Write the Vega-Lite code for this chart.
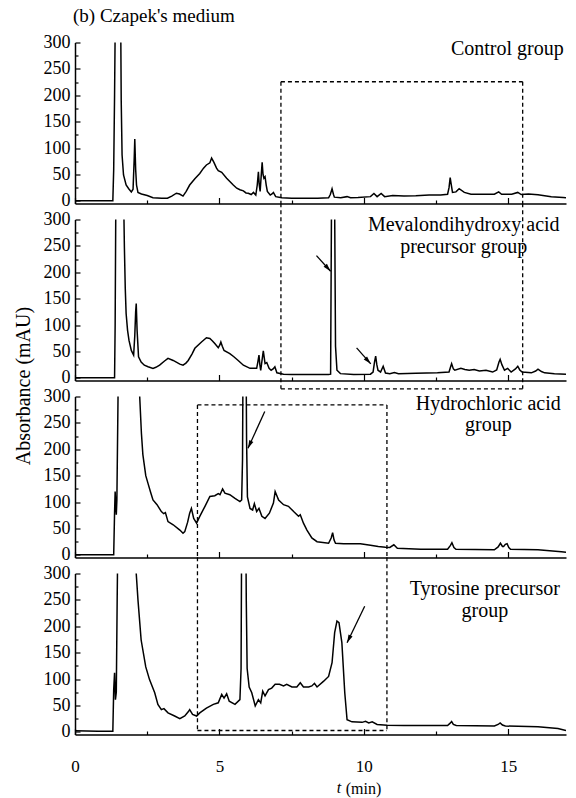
{
  "$schema": "https://vega.github.io/schema/vega-lite/v6.json",
  "background": "white",
  "padding": {"left": 13, "top": 6.5, "right": 4, "bottom": 2},
  "config": {
    "view": {"stroke": null},
    "font": "Liberation Serif",
    "axis": {
      "domainColor": "black", "domainWidth": 1.5,
      "tickColor": "black", "tickWidth": 1.2,
      "grid": false, "labelOverlap": false, "labelFlush": false,
      "labelFont": "Liberation Serif", "labelColor": "black", "labelFontSize": 18,
      "titleFont": "Liberation Serif", "titleFontWeight": "normal", "titleColor": "black"
    },
    "title": {"font": "Liberation Serif", "fontWeight": "normal", "color": "black"},
    "text": {"font": "Liberation Serif", "color": "black"}
  },
  "datasets": {
    "control": [
      {"t":0,"a":0},{"t":1.31,"a":0},{"t":1.34,"a":60},{"t":1.37,"a":200},{"t":1.40,"a":380},{"t":1.50,"a":700},{"t":1.58,"a":360},{"t":1.60,"a":190},{"t":1.63,"a":87},{"t":1.68,"a":49},{"t":1.77,"a":30},{"t":1.86,"a":23},{"t":1.95,"a":17},{"t":2.01,"a":22},{"t":2.05,"a":80},{"t":2.07,"a":117},{"t":2.10,"a":60},{"t":2.13,"a":30},{"t":2.18,"a":16},{"t":2.3,"a":13},{"t":2.5,"a":10},{"t":2.7,"a":6},{"t":3.0,"a":5},{"t":3.2,"a":5},{"t":3.35,"a":9},{"t":3.51,"a":14.5},{"t":3.62,"a":13},{"t":3.74,"a":9},{"t":3.85,"a":18},{"t":3.97,"a":30},{"t":4.15,"a":42},{"t":4.32,"a":52},{"t":4.45,"a":62},{"t":4.55,"a":68},{"t":4.67,"a":72},{"t":4.73,"a":81},{"t":4.81,"a":73},{"t":4.9,"a":62},{"t":4.96,"a":57},{"t":5.08,"a":54},{"t":5.25,"a":43},{"t":5.48,"a":30},{"t":5.6,"a":24},{"t":5.71,"a":21},{"t":5.83,"a":19},{"t":5.92,"a":15},{"t":6.0,"a":14.5},{"t":6.1,"a":12},{"t":6.18,"a":16},{"t":6.26,"a":11},{"t":6.31,"a":30},{"t":6.35,"a":55},{"t":6.38,"a":30},{"t":6.41,"a":18},{"t":6.45,"a":50},{"t":6.48,"a":73},{"t":6.51,"a":50},{"t":6.54,"a":43},{"t":6.58,"a":46},{"t":6.62,"a":30},{"t":6.66,"a":18},{"t":6.76,"a":11},{"t":6.82,"a":13},{"t":6.87,"a":16},{"t":6.92,"a":11},{"t":6.95,"a":8},{"t":7.16,"a":5.7},{"t":7.5,"a":5},{"t":7.91,"a":5},{"t":8.4,"a":5},{"t":8.78,"a":5.7},{"t":8.84,"a":12},{"t":8.90,"a":23},{"t":8.95,"a":12},{"t":8.98,"a":7},{"t":9.2,"a":6},{"t":9.42,"a":8},{"t":9.54,"a":6},{"t":9.8,"a":6.5},{"t":10.23,"a":8},{"t":10.35,"a":14},{"t":10.46,"a":8},{"t":10.6,"a":14},{"t":10.72,"a":8},{"t":11.0,"a":10},{"t":11.39,"a":9},{"t":11.8,"a":9.5},{"t":12.26,"a":11},{"t":12.66,"a":11},{"t":12.9,"a":12.6},{"t":12.95,"a":25},{"t":12.99,"a":44},{"t":13.03,"a":30},{"t":13.07,"a":16},{"t":13.19,"a":17},{"t":13.3,"a":23},{"t":13.48,"a":16},{"t":13.71,"a":12.6},{"t":14.17,"a":12.6},{"t":14.52,"a":12.6},{"t":14.67,"a":17},{"t":14.77,"a":12.6},{"t":15.12,"a":12.6},{"t":15.33,"a":16},{"t":15.45,"a":12},{"t":15.7,"a":13},{"t":16.03,"a":11.5},{"t":16.49,"a":7.6},{"t":16.9,"a":6.3},{"t":17.0,"a":6}
    ],
    "mevalon": [
      {"t":0,"a":0},{"t":1.37,"a":0},{"t":1.39,"a":100},{"t":1.41,"a":300},{"t":1.44,"a":500},{"t":1.6,"a":700},{"t":1.69,"a":320},{"t":1.71,"a":248},{"t":1.74,"a":170},{"t":1.77,"a":122},{"t":1.82,"a":90},{"t":1.87,"a":71},{"t":1.95,"a":52},{"t":2.03,"a":43},{"t":2.07,"a":80},{"t":2.10,"a":125},{"t":2.12,"a":141},{"t":2.15,"a":90},{"t":2.20,"a":40},{"t":2.29,"a":30},{"t":2.4,"a":24},{"t":2.53,"a":21},{"t":2.7,"a":18},{"t":2.8,"a":20},{"t":2.93,"a":24},{"t":3.1,"a":32},{"t":3.22,"a":37},{"t":3.4,"a":33},{"t":3.63,"a":26},{"t":3.74,"a":24},{"t":3.84,"a":28},{"t":3.92,"a":33},{"t":4.05,"a":45},{"t":4.15,"a":56},{"t":4.38,"a":68},{"t":4.55,"a":76},{"t":4.67,"a":74.5},{"t":4.76,"a":70},{"t":4.84,"a":65},{"t":4.96,"a":57},{"t":5.01,"a":62},{"t":5.05,"a":68},{"t":5.1,"a":60},{"t":5.16,"a":52},{"t":5.36,"a":46},{"t":5.5,"a":40},{"t":5.65,"a":33},{"t":5.83,"a":24},{"t":6.06,"a":18},{"t":6.29,"a":18},{"t":6.33,"a":30},{"t":6.37,"a":43},{"t":6.40,"a":25},{"t":6.43,"a":14},{"t":6.48,"a":35},{"t":6.52,"a":51},{"t":6.56,"a":35},{"t":6.58,"a":27},{"t":6.64,"a":29},{"t":6.72,"a":18},{"t":6.79,"a":14.5},{"t":6.86,"a":17},{"t":6.92,"a":21},{"t":6.99,"a":9.5},{"t":7.22,"a":7},{"t":7.5,"a":6.5},{"t":7.91,"a":6.3},{"t":8.3,"a":6.5},{"t":8.78,"a":6.3},{"t":8.85,"a":7},{"t":8.88,"a":320},{"t":8.93,"a":800},{"t":8.99,"a":320},{"t":9.02,"a":60},{"t":9.07,"a":14.5},{"t":9.19,"a":8},{"t":9.65,"a":6.3},{"t":10.23,"a":7},{"t":10.32,"a":11},{"t":10.37,"a":30},{"t":10.41,"a":41},{"t":10.45,"a":25},{"t":10.49,"a":14.5},{"t":10.58,"a":11},{"t":10.67,"a":22},{"t":10.75,"a":9},{"t":10.9,"a":8},{"t":11.06,"a":10},{"t":11.2,"a":8},{"t":11.8,"a":8.5},{"t":12.55,"a":9.5},{"t":12.95,"a":11},{"t":13.0,"a":20},{"t":13.04,"a":27},{"t":13.1,"a":17},{"t":13.15,"a":14.5},{"t":13.36,"a":18},{"t":13.5,"a":16},{"t":13.65,"a":14.5},{"t":13.82,"a":16},{"t":14.0,"a":13},{"t":14.23,"a":14.5},{"t":14.46,"a":11},{"t":14.6,"a":15},{"t":14.68,"a":30},{"t":14.72,"a":35},{"t":14.78,"a":25},{"t":14.87,"a":14.5},{"t":14.98,"a":18},{"t":15.1,"a":11},{"t":15.25,"a":17},{"t":15.33,"a":22},{"t":15.4,"a":15},{"t":15.48,"a":11},{"t":15.8,"a":9.5},{"t":15.95,"a":13},{"t":16.03,"a":16.4},{"t":16.15,"a":12},{"t":16.26,"a":9.5},{"t":16.6,"a":8},{"t":17.0,"a":7}
    ],
    "hcl": [
      {"t":0,"a":0},{"t":1.34,"a":0},{"t":1.37,"a":80},{"t":1.39,"a":120},{"t":1.41,"a":95},{"t":1.43,"a":76},{"t":1.45,"a":104},{"t":1.48,"a":250},{"t":1.51,"a":400},{"t":1.8,"a":1500},{"t":2.2,"a":360},{"t":2.24,"a":300},{"t":2.3,"a":230},{"t":2.35,"a":190},{"t":2.45,"a":150},{"t":2.53,"a":135},{"t":2.62,"a":118},{"t":2.7,"a":104},{"t":2.84,"a":95},{"t":2.99,"a":82},{"t":3.07,"a":78},{"t":3.13,"a":80},{"t":3.22,"a":63},{"t":3.4,"a":57},{"t":3.63,"a":47},{"t":3.74,"a":41},{"t":3.8,"a":44},{"t":3.9,"a":62},{"t":3.97,"a":79},{"t":4.03,"a":88},{"t":4.11,"a":69},{"t":4.21,"a":60},{"t":4.32,"a":73},{"t":4.5,"a":92},{"t":4.67,"a":110.5},{"t":4.84,"a":112},{"t":4.96,"a":116},{"t":5.02,"a":114},{"t":5.11,"a":125},{"t":5.19,"a":117},{"t":5.36,"a":114},{"t":5.54,"a":107},{"t":5.71,"a":101},{"t":5.77,"a":104},{"t":5.80,"a":180},{"t":5.83,"a":500},{"t":5.91,"a":500},{"t":5.94,"a":220},{"t":5.97,"a":110},{"t":6.06,"a":88},{"t":6.15,"a":85},{"t":6.21,"a":97},{"t":6.29,"a":82},{"t":6.37,"a":88},{"t":6.47,"a":73},{"t":6.58,"a":69},{"t":6.73,"a":79},{"t":6.87,"a":98},{"t":6.93,"a":120},{"t":7.05,"a":104},{"t":7.22,"a":95},{"t":7.39,"a":92},{"t":7.57,"a":82},{"t":7.74,"a":73},{"t":7.8,"a":76},{"t":7.91,"a":60},{"t":8.03,"a":47},{"t":8.2,"a":32},{"t":8.38,"a":25},{"t":8.78,"a":22},{"t":8.87,"a":32},{"t":8.92,"a":42},{"t":8.97,"a":28},{"t":9.02,"a":22},{"t":9.3,"a":21},{"t":9.88,"a":21},{"t":10.23,"a":18},{"t":10.5,"a":16},{"t":10.75,"a":14.5},{"t":10.9,"a":14},{"t":11.04,"a":19},{"t":11.16,"a":12.6},{"t":11.97,"a":10.7},{"t":12.9,"a":10.7},{"t":13.0,"a":18},{"t":13.05,"a":23},{"t":13.12,"a":14},{"t":13.19,"a":10.7},{"t":14.52,"a":9.5},{"t":14.65,"a":15},{"t":14.73,"a":22},{"t":14.8,"a":16},{"t":14.84,"a":16},{"t":14.9,"a":20},{"t":14.96,"a":21},{"t":15.02,"a":14},{"t":15.08,"a":10.7},{"t":16.03,"a":9.5},{"t":16.84,"a":5.7},{"t":17.0,"a":5}
    ],
    "tyrosine": [
      {"t":0,"a":2},{"t":0.8,"a":1},{"t":1.31,"a":1},{"t":1.34,"a":80},{"t":1.37,"a":112},{"t":1.40,"a":61},{"t":1.43,"a":75},{"t":1.46,"a":250},{"t":1.49,"a":400},{"t":1.8,"a":1500},{"t":2.08,"a":360},{"t":2.12,"a":300},{"t":2.18,"a":250},{"t":2.29,"a":174},{"t":2.45,"a":123},{"t":2.58,"a":99},{"t":2.76,"a":74},{"t":2.87,"a":52},{"t":2.99,"a":42},{"t":3.08,"a":44},{"t":3.22,"a":36},{"t":3.45,"a":30},{"t":3.63,"a":25},{"t":3.8,"a":30},{"t":3.92,"a":38},{"t":3.97,"a":42},{"t":4.07,"a":33},{"t":4.21,"a":30},{"t":4.32,"a":36},{"t":4.55,"a":45},{"t":4.79,"a":52},{"t":4.96,"a":55},{"t":5.08,"a":71},{"t":5.16,"a":64},{"t":5.25,"a":72},{"t":5.34,"a":58},{"t":5.54,"a":52},{"t":5.71,"a":61},{"t":5.75,"a":120},{"t":5.78,"a":500},{"t":5.90,"a":500},{"t":5.93,"a":250},{"t":5.96,"a":120},{"t":6.03,"a":85},{"t":6.12,"a":74},{"t":6.24,"a":49},{"t":6.35,"a":61},{"t":6.43,"a":55},{"t":6.5,"a":77},{"t":6.58,"a":68},{"t":6.7,"a":80},{"t":6.81,"a":83},{"t":6.93,"a":90},{"t":7.08,"a":90},{"t":7.22,"a":87},{"t":7.33,"a":90},{"t":7.51,"a":85},{"t":7.68,"a":85},{"t":7.8,"a":93},{"t":7.91,"a":85},{"t":8.09,"a":85},{"t":8.2,"a":87},{"t":8.29,"a":92},{"t":8.38,"a":85},{"t":8.61,"a":96},{"t":8.78,"a":105},{"t":8.9,"a":131},{"t":8.99,"a":188},{"t":9.07,"a":210},{"t":9.14,"a":207},{"t":9.24,"a":169},{"t":9.34,"a":74},{"t":9.42,"a":23},{"t":9.59,"a":19},{"t":9.94,"a":18},{"t":10.06,"a":20},{"t":10.17,"a":17},{"t":10.29,"a":19},{"t":10.46,"a":14},{"t":10.81,"a":12.6},{"t":11.39,"a":12},{"t":12.9,"a":12},{"t":12.98,"a":16},{"t":13.04,"a":19.6},{"t":13.1,"a":14},{"t":13.2,"a":12},{"t":14.52,"a":11},{"t":14.65,"a":14},{"t":14.72,"a":17},{"t":14.8,"a":13},{"t":14.9,"a":11},{"t":16.03,"a":9.5},{"t":16.72,"a":6.3},{"t":17.0,"a":2.5}
    ],
    "box1_top": [
      {"t":7.13,"a":225.6,"t2":15.5,"a2":225.6},
      {"t":7.13,"a":225.6,"t2":7.13,"a2":-5},
      {"t":15.5,"a":225.6,"t2":15.5,"a2":-5}
    ],
    "box1_bottom": [
      {"t":7.13,"a":331,"t2":7.13,"a2":-20.8},
      {"t":15.5,"a":331,"t2":15.5,"a2":-20.8},
      {"t":7.13,"a":-20.8,"t2":15.5,"a2":-20.8}
    ],
    "box2_top": [
      {"t":4.24,"a":284,"t2":10.8,"a2":284},
      {"t":4.24,"a":284,"t2":4.24,"a2":-5},
      {"t":10.8,"a":284,"t2":10.8,"a2":-5}
    ],
    "box2_bottom": [
      {"t":4.24,"a":331,"t2":4.24,"a2":2.6},
      {"t":10.8,"a":331,"t2":10.8,"a2":2.6},
      {"t":4.24,"a":2.6,"t2":10.8,"a2":2.6}
    ],
    "arrows2": [
      {"t":8.36,"a":231.6,"t2":8.85,"a2":201.9},
      {"t":9.75,"a":56.8,"t2":10.24,"a2":26.5}
    ],
    "arrows3": [
      {"t":6.57,"a":271.6,"t2":5.99,"a2":202}
    ],
    "arrows4": [
      {"t":10.03,"a":238,"t2":9.42,"a2":168.7}
    ]
  },
  "spacing": 16,
  "bounds": "flush",
  "vconcat": [
    {
      "width": 491, "height": 161,
      "title": {"text": "(b) Czapek's medium", "anchor": "start", "frame": "group", "fontSize": 19, "baseline": "alphabetic", "offset": 20, "dx": -2, "dy": 27},
      "resolve": {"axis": {"x": "independent", "y": "independent"}},
      "layer": [
        {
          "data": {"name": "control"},
          "mark": {"type": "line", "clip": true, "color": "black", "strokeWidth": 1.5},
          "encoding": {
            "x": {"field": "t", "type": "quantitative", "scale": {"domain": [0, 17], "nice": false, "zero": false},
              "axis": {"values": [0, 5, 10, 15], "labels": false, "ticks": false, "tickSize": 0, "title": null}},
            "y": {"field": "a", "type": "quantitative", "scale": {"domain": [-5, 300], "nice": false, "zero": false},
              "axis": {"values": [0, 50, 100, 150, 200, 250, 300], "ticks": false, "tickSize": 0, "labelPadding": 5, "title": null}}
          }
        },
        {
          "data": {"name": "box1_top"},
          "mark": {"type": "rule", "color": "black", "strokeWidth": 1.3, "strokeDash": [4, 3]},
          "encoding": {
            "x": {"field": "t", "type": "quantitative",
              "axis": {"orient": "top", "offset": -161, "domain": false, "labels": false, "title": null,
                "values": [0, 2.5, 5, 7.5, 10, 12.5, 15],
                "tickSize": {"condition": {"test": "datum.value % 5 === 0", "value": 6}, "value": 3.5}}},
            "x2": {"field": "t2"},
            "y": {"field": "a", "type": "quantitative",
              "axis": {"orient": "right", "offset": -491, "domain": false, "labels": false, "title": null,
                "values": [0, 25, 50, 75, 100, 125, 150, 175, 200, 225, 250, 275, 300],
                "tickSize": {"condition": {"test": "datum.value % 50 === 0", "value": 5}, "value": 3}}},
            "y2": {"field": "a2"}
          }
        },
        {
          "data": {"values": [{"t": 16.92, "a": 276, "label": "Control group"}]},
          "mark": {"type": "text", "fontSize": 20, "align": "right", "baseline": "alphabetic"},
          "encoding": {
            "x": {"field": "t", "type": "quantitative", "axis": null},
            "y": {"field": "a", "type": "quantitative", "axis": null},
            "text": {"field": "label"}
          }
        }
      ]
    },
    {
      "width": 491, "height": 161,
      "resolve": {"axis": {"x": "independent", "y": "independent"}},
      "layer": [
        {
          "data": {"name": "mevalon"},
          "mark": {"type": "line", "clip": true, "color": "black", "strokeWidth": 1.5},
          "encoding": {
            "x": {"field": "t", "type": "quantitative", "scale": {"domain": [0, 17], "nice": false, "zero": false},
              "axis": {"values": [0, 5, 10, 15], "labels": false, "ticks": false, "tickSize": 0, "title": null}},
            "y": {"field": "a", "type": "quantitative", "scale": {"domain": [-5, 300], "nice": false, "zero": false},
              "axis": {"values": [0, 50, 100, 150, 200, 250, 300], "ticks": false, "tickSize": 0, "labelPadding": 5,
                "title": "Absorbance (mAU)", "titleFontSize": 20, "titleAngle": -90, "titleAlign": "center", "titleBaseline": "bottom",
                "titleX": -42, "titleY": 166}}
          }
        },
        {
          "data": {"name": "box1_bottom"},
          "mark": {"type": "rule", "color": "black", "strokeWidth": 1.3, "strokeDash": [4, 3]},
          "encoding": {
            "x": {"field": "t", "type": "quantitative",
              "axis": {"orient": "top", "offset": -161, "domain": false, "labels": false, "title": null,
                "values": [0, 2.5, 5, 7.5, 10, 12.5, 15],
                "tickSize": {"condition": {"test": "datum.value % 5 === 0", "value": 6}, "value": 3.5}}},
            "x2": {"field": "t2"},
            "y": {"field": "a", "type": "quantitative",
              "axis": {"orient": "right", "offset": -491, "domain": false, "labels": false, "title": null,
                "values": [0, 25, 50, 75, 100, 125, 150, 175, 200, 225, 250, 275, 300],
                "tickSize": {"condition": {"test": "datum.value % 50 === 0", "value": 5}, "value": 3}}},
            "y2": {"field": "a2"}
          }
        },
        {
          "data": {"name": "arrows2"},
          "mark": {"type": "rule", "color": "black", "strokeWidth": 1.3},
          "encoding": {
            "x": {"field": "t", "type": "quantitative", "axis": null}, "x2": {"field": "t2"},
            "y": {"field": "a", "type": "quantitative", "axis": null}, "y2": {"field": "a2"}
          }
        },
        {
          "data": {"name": "arrows2"},
          "mark": {"type": "point", "shape": "M0,0L0.45,1.6L-0.45,1.6Z", "size": 100, "filled": true, "color": "black", "opacity": 1, "angle": 138},
          "encoding": {
            "x": {"field": "t2", "type": "quantitative", "axis": null},
            "y": {"field": "a2", "type": "quantitative", "axis": null}
          }
        },
        {
          "data": {"values": [{"t": 13.46, "a": 277.7, "label": "Mevalondihydroxy acid\nprecursor group"}]},
          "mark": {"type": "text", "fontSize": 20, "align": "center", "baseline": "alphabetic", "lineBreak": "\n", "lineHeight": 21.5},
          "encoding": {
            "x": {"field": "t", "type": "quantitative", "axis": null},
            "y": {"field": "a", "type": "quantitative", "axis": null},
            "text": {"field": "label"}
          }
        }
      ]
    },
    {
      "width": 491, "height": 161,
      "resolve": {"axis": {"x": "independent", "y": "independent"}},
      "layer": [
        {
          "data": {"name": "hcl"},
          "mark": {"type": "line", "clip": true, "color": "black", "strokeWidth": 1.5},
          "encoding": {
            "x": {"field": "t", "type": "quantitative", "scale": {"domain": [0, 17], "nice": false, "zero": false},
              "axis": {"values": [0, 5, 10, 15], "labels": false, "ticks": false, "tickSize": 0, "title": null}},
            "y": {"field": "a", "type": "quantitative", "scale": {"domain": [-5, 300], "nice": false, "zero": false},
              "axis": {"values": [0, 50, 100, 150, 200, 250, 300], "ticks": false, "tickSize": 0, "labelPadding": 5, "title": null}}
          }
        },
        {
          "data": {"name": "box2_top"},
          "mark": {"type": "rule", "color": "black", "strokeWidth": 1.3, "strokeDash": [4, 3]},
          "encoding": {
            "x": {"field": "t", "type": "quantitative",
              "axis": {"orient": "top", "offset": -161, "domain": false, "labels": false, "title": null,
                "values": [0, 2.5, 5, 7.5, 10, 12.5, 15],
                "tickSize": {"condition": {"test": "datum.value % 5 === 0", "value": 6}, "value": 3.5}}},
            "x2": {"field": "t2"},
            "y": {"field": "a", "type": "quantitative",
              "axis": {"orient": "right", "offset": -491, "domain": false, "labels": false, "title": null,
                "values": [0, 25, 50, 75, 100, 125, 150, 175, 200, 225, 250, 275, 300],
                "tickSize": {"condition": {"test": "datum.value % 50 === 0", "value": 5}, "value": 3}}},
            "y2": {"field": "a2"}
          }
        },
        {
          "data": {"name": "arrows3"},
          "mark": {"type": "rule", "color": "black", "strokeWidth": 1.3},
          "encoding": {
            "x": {"field": "t", "type": "quantitative", "axis": null}, "x2": {"field": "t2"},
            "y": {"field": "a", "type": "quantitative", "axis": null}, "y2": {"field": "a2"}
          }
        },
        {
          "data": {"name": "arrows3"},
          "mark": {"type": "point", "shape": "M0,0L0.45,1.6L-0.45,1.6Z", "size": 100, "filled": true, "color": "black", "opacity": 1, "angle": 204.5},
          "encoding": {
            "x": {"field": "t2", "type": "quantitative", "axis": null},
            "y": {"field": "a2", "type": "quantitative", "axis": null}
          }
        },
        {
          "data": {"values": [{"t": 14.31, "a": 274.8, "label": "Hydrochloric acid\ngroup"}]},
          "mark": {"type": "text", "fontSize": 20, "align": "center", "baseline": "alphabetic", "lineBreak": "\n", "lineHeight": 21.5},
          "encoding": {
            "x": {"field": "t", "type": "quantitative", "axis": null},
            "y": {"field": "a", "type": "quantitative", "axis": null},
            "text": {"field": "label"}
          }
        }
      ]
    },
    {
      "width": 491, "height": 161,
      "resolve": {"axis": {"x": "independent", "y": "independent"}},
      "layer": [
        {
          "data": {"name": "tyrosine"},
          "mark": {"type": "line", "clip": true, "color": "black", "strokeWidth": 1.5},
          "encoding": {
            "x": {"field": "t", "type": "quantitative", "scale": {"domain": [0, 17], "nice": false, "zero": false},
              "axis": {"values": [0, 5, 10, 15], "ticks": false, "tickSize": 0, "labelFontSize": 17, "labelPadding": 24,
                "title": "(min)", "titleFontSize": 16, "titleX": 288, "titleY": 58.5, "titleAlign": "center", "titleBaseline": "alphabetic"}},
            "y": {"field": "a", "type": "quantitative", "scale": {"domain": [-5, 300], "nice": false, "zero": false},
              "axis": {"values": [0, 50, 100, 150, 200, 250, 300], "ticks": false, "tickSize": 0, "labelPadding": 5, "title": null}}
          }
        },
        {
          "data": {"name": "box2_bottom"},
          "mark": {"type": "rule", "color": "black", "strokeWidth": 1.3, "strokeDash": [4, 3]},
          "encoding": {
            "x": {"field": "t", "type": "quantitative",
              "axis": {"orient": "top", "offset": -161, "domain": false, "labels": false, "title": null,
                "values": [0, 2.5, 5, 7.5, 10, 12.5, 15],
                "tickSize": {"condition": {"test": "datum.value % 5 === 0", "value": 6}, "value": 3.5}}},
            "x2": {"field": "t2"},
            "y": {"field": "a", "type": "quantitative",
              "axis": {"orient": "right", "offset": -491, "domain": false, "labels": false, "title": null,
                "values": [0, 25, 50, 75, 100, 125, 150, 175, 200, 225, 250, 275, 300],
                "tickSize": {"condition": {"test": "datum.value % 50 === 0", "value": 5}, "value": 3}}},
            "y2": {"field": "a2"}
          }
        },
        {
          "data": {"name": "arrows4"},
          "mark": {"type": "rule", "color": "black", "strokeWidth": 1.3},
          "encoding": {
            "x": {"field": "t", "type": "quantitative", "axis": null}, "x2": {"field": "t2"},
            "y": {"field": "a", "type": "quantitative", "axis": null}, "y2": {"field": "a2"}
          }
        },
        {
          "data": {"name": "arrows4"},
          "mark": {"type": "point", "shape": "M0,0L0.45,1.6L-0.45,1.6Z", "size": 100, "filled": true, "color": "black", "opacity": 1, "angle": 205.7},
          "encoding": {
            "x": {"field": "t2", "type": "quantitative", "axis": null},
            "y": {"field": "a2", "type": "quantitative", "axis": null}
          }
        },
        {
          "data": {"values": [{"t": 14.19, "a": 259, "label": "Tyrosine precursor\ngroup"}]},
          "mark": {"type": "text", "fontSize": 20, "align": "center", "baseline": "alphabetic", "lineBreak": "\n", "lineHeight": 21.5},
          "encoding": {
            "x": {"field": "t", "type": "quantitative", "axis": null},
            "y": {"field": "a", "type": "quantitative", "axis": null},
            "text": {"field": "label"}
          }
        },
        {
          "data": {"values": [{"t": 9.14, "a": -116, "label": "t"}]},
          "mark": {"type": "text", "fontSize": 16, "fontStyle": "italic", "align": "center", "baseline": "alphabetic"},
          "encoding": {
            "x": {"field": "t", "type": "quantitative", "axis": null},
            "y": {"field": "a", "type": "quantitative", "axis": null},
            "text": {"field": "label"}
          }
        }
      ]
    }
  ]
}
